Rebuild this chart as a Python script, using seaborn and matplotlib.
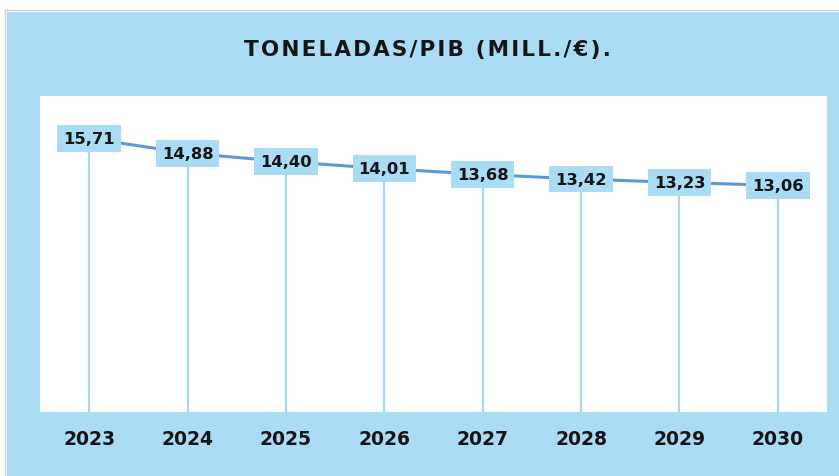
import matplotlib
matplotlib.use('Agg')
import matplotlib.pyplot as plt
from matplotlib.patches import Rectangle
import seaborn as sns
import pandas as pd

years = ['2023', '2024', '2025', '2026', '2027', '2028', '2029', '2030']
values = [15.71, 14.88, 14.40, 14.01, 13.68, 13.42, 13.23, 13.06]
labels = ['15,71', '14,88', '14,40', '14,01', '13,68', '13,42', '13,23', '13,06']
title = 'TONELADAS/PIB (MILL./€).'

sns.set_theme(style='white')
plt.rcParams['font.family'] = ['DejaVu Sans']

BLUE_BG = '#aadcf5'
LINE = '#5b9bd5'
INK = '#151515'

df = pd.DataFrame({'year': years, 'value': values})
df['x'] = range(len(df))

fig = plt.figure(figsize=(8.39, 4.77), dpi=100)
fig.patch.set_facecolor('white')
# outer grey frame + light blue panel
fig.patches.append(Rectangle((5 / 839, 0), 1, 1 - 11 / 477, transform=fig.transFigure,
                             fc='none', ec='#cfcfcf', lw=1, zorder=-10))
fig.patches.append(Rectangle((7 / 839, 0), 1, 1 - 13 / 477, transform=fig.transFigure,
                             fc=BLUE_BG, ec='none', zorder=-9))

ax = fig.add_axes([40 / 839, 1 - 413 / 477, 787 / 839, 316 / 477])
ax.set_zorder(1)
ax.set_facecolor('white')

ax.vlines(df['x'], 0, df['value'], color='#a6d8f3', lw=1.6, zorder=1)
sns.lineplot(data=df, x='x', y='value', color=LINE, lw=2.2, ax=ax, zorder=2)

for x, v, lab in zip(df['x'], df['value'], labels):
    ax.text(x, v, lab, ha='center', va='center', fontsize=11.8, fontweight='bold',
            color=INK, zorder=3,
            bbox=dict(boxstyle='square,pad=0.36', fc=BLUE_BG, ec='none'))

ax.set_xlim(-0.5, len(years) - 0.5)
ax.set_ylim(0.3, 18.1)
ax.set_xticks(df['x'])
ax.set_xticklabels(years, fontsize=13.5, fontweight='bold', color=INK)
ax.set_yticks([])
ax.tick_params(axis='x', length=0, pad=12)
ax.set_xlabel('')
ax.set_ylabel('')
for s in ax.spines.values():
    s.set_visible(False)

spaced = '\u200a'.join(title)
fig.text(427 / 839, 1 - 50 / 477, spaced, ha='center', va='center', fontsize=15.5,
         fontweight='bold', color=INK)

fig.savefig('out.png', dpi=100)
